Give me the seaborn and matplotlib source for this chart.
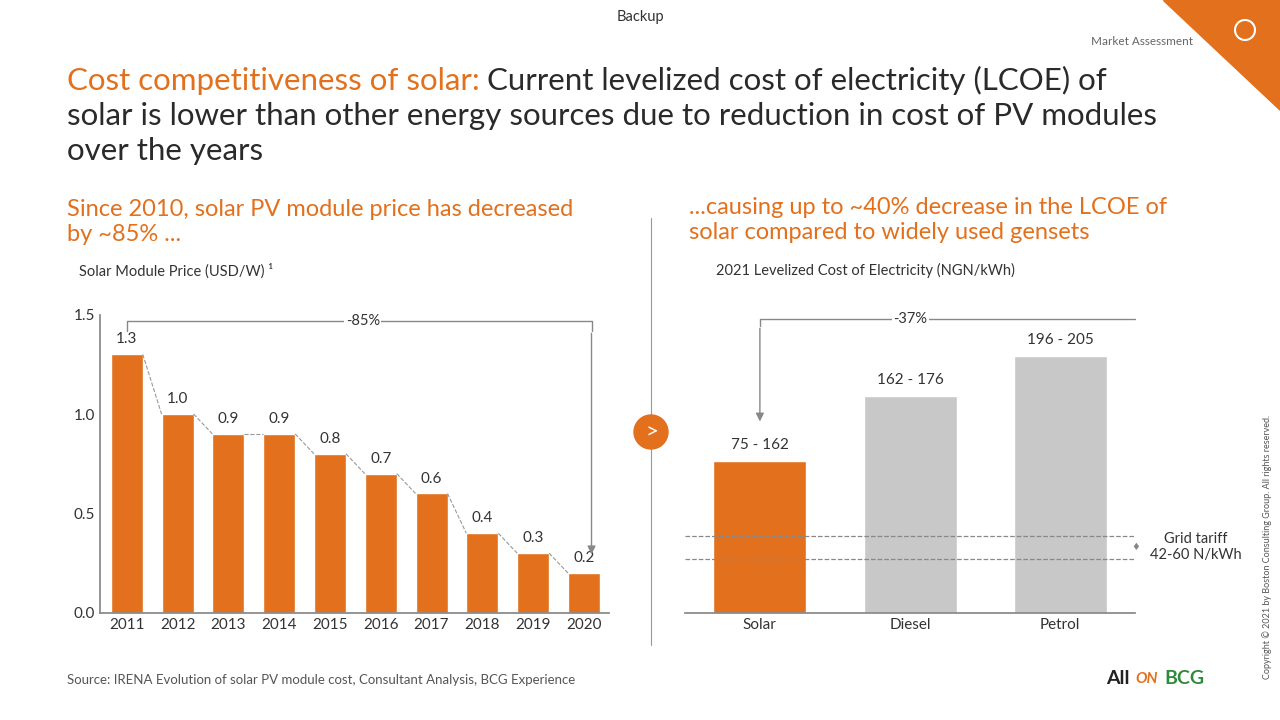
import numpy as np
import pandas as pd
import matplotlib
matplotlib.use("Agg")
import matplotlib.pyplot as plt
import seaborn as sns
from matplotlib.patches import Polygon, Ellipse

years = ["2011", "2012", "2013", "2014", "2015", "2016", "2017", "2018", "2019", "2020"]
price = [1.3, 1.0, 0.9, 0.9, 0.8, 0.7, 0.6, 0.4, 0.3, 0.2]
sources = ["Solar", "Diesel", "Petrol"]
lcoe_mid = [118.5, 169, 200.5]
lcoe_lbl = ["75 - 162", "162 - 176", "196 - 205"]
tariff = [42, 60]

ORANGE = "#E2701C"
GREY = "#C8C8C8"
TXT = "#333333"

sns.set_theme(style="white")
plt.rcParams['font.family'] = ['Lato', 'DejaVu Sans']

fig = plt.figure(figsize=(12.8, 7.2), dpi=100)

# header
fig.text(0.5, 0.977, "Backup", ha="center", va="center", fontsize=10.5, color=TXT)
fig.text(0.932, 0.943, "Market Assessment", ha="right", va="center", fontsize=8.5, color="#666666")
fig.patches.append(Polygon([[1163/1280, 1], [1, 1], [1, 1 - 110/720]], closed=True,
                           transform=fig.transFigure, color=ORANGE, zorder=0))
fig.patches.append(Ellipse((1245/1280, 1 - 30/720), 20/1280, 20/720, transform=fig.transFigure,
                           fill=False, ec="white", lw=1.5))

TS = 22.5
t1 = fig.text(0.052, 0.888, "Cost competitiveness of solar: ", fontsize=TS, color=ORANGE, va="center")
fig.canvas.draw()
bb = t1.get_window_extent()
fig.text(bb.x1 / 1280, 0.888, "Current levelized cost of electricity (LCOE) of",
         fontsize=TS, color="#2a2a2a", va="center")
fig.text(0.052, 0.839, "solar is lower than other energy sources due to reduction in cost of PV modules",
         fontsize=TS, color="#2a2a2a", va="center")
fig.text(0.052, 0.790, "over the years", fontsize=TS, color="#2a2a2a", va="center")

fig.text(0.052, 0.692, "Since 2010, solar PV module price has decreased\nby ~85% ...",
         fontsize=17, color=ORANGE, va="center", linespacing=1.25)
fig.text(0.538, 0.694, "...causing up to ~40% decrease in the LCOE of\nsolar compared to widely used gensets",
         fontsize=17, color=ORANGE, va="center", linespacing=1.25)
fig.text(0.062, 0.624, "Solar Module Price (USD/W) ¹", fontsize=10.5, color=TXT, va="center")
fig.text(0.559, 0.624, "2021 Levelized Cost of Electricity (NGN/kWh)", fontsize=10.5, color=TXT, va="center")

# left chart
ax1 = fig.add_axes([0.078, 0.149, 0.398, 0.414])
df1 = pd.DataFrame({"year": years, "price": price})
sns.barplot(data=df1, x="year", y="price", color=ORANGE, width=0.63, saturation=1, ax=ax1)
ax1.set_xlim(-0.53, 9.5)
ax1.set_ylim(0, 1.5)
ax1.set_yticks([0, 0.5, 1.0, 1.5])
ax1.set_yticklabels(["0.0", "0.5", "1.0", "1.5"])
ax1.set_xlabel("")
ax1.set_ylabel("")
ax1.tick_params(labelsize=11, colors=TXT, length=0)
for s in ["top", "right"]:
    ax1.spines[s].set_visible(False)
for s in ["left", "bottom"]:
    ax1.spines[s].set_color("#888888")
for i, v in enumerate(price):
    ax1.text(i, v + 0.04, f"{v:.1f}", ha="center", va="bottom", fontsize=11, color=TXT)
    if i < len(price) - 1:
        ax1.plot([i + 0.315, i + 1 - 0.315], [v, price[i + 1]], ls="--", lw=0.8, color="#999999")
ax1.plot([0, 0, 9.15, 9.15], [1.42, 1.47, 1.47, 1.42], color="#888888", lw=1, clip_on=False)
ax1.annotate("", xy=(9.15, 0.28), xytext=(9.15, 1.42),
             arrowprops=dict(arrowstyle="-|>", color="#888888", lw=1))
ax1.text(4.65, 1.47, "-85%", ha="center", va="center", fontsize=10.5, color=TXT,
         bbox=dict(fc="white", ec="none", pad=1))

# right chart
ax2 = fig.add_axes([0.535, 0.149, 0.352, 0.414])
df2 = pd.DataFrame({"source": sources, "lcoe": lcoe_mid})
sns.barplot(data=df2, x="source", y="lcoe", hue="source", palette=[ORANGE, GREY, GREY],
            width=0.62, saturation=1, legend=False, ax=ax2)
ax2.set_xlim(-0.5, 2.5)
ax2.set_ylim(0, 232.5)
ax2.set_yticks([])
ax2.set_xlabel("")
ax2.set_ylabel("")
ax2.tick_params(labelsize=11, colors=TXT, length=0)
for s in ["top", "right", "left"]:
    ax2.spines[s].set_visible(False)
ax2.spines["bottom"].set_color("#888888")
for i, (v, l) in enumerate(zip(lcoe_mid, lcoe_lbl)):
    ax2.text(i, v + 7, l, ha="center", va="bottom", fontsize=11, color=TXT)
for t in tariff:
    ax2.axhline(t, color="#888888", ls="--", lw=0.9)
ax2.text(2.5, 51, "♦", ha="center", va="center", fontsize=7, color="#888888", clip_on=False)
ax2.text(2.9, 51, "Grid tariff\n42-60 N/kWh", ha="center", va="center", fontsize=10.5, color=TXT,
         clip_on=False)
ax2.plot([0, 0, 2.5], [224, 229, 229], color="#888888", lw=1, clip_on=False)
ax2.annotate("", xy=(0, 147), xytext=(0, 224),
             arrowprops=dict(arrowstyle="-|>", color="#888888", lw=1))
ax2.text(1.0, 229, "-37%", ha="center", va="center", fontsize=10.5, color=TXT,
         bbox=dict(fc="white", ec="none", pad=1))

# separator
fig.add_artist(plt.Line2D([651/1280, 651/1280], [1 - 645/720, 1 - 218/720], color="#999999", lw=0.8))
fig.patches.append(Ellipse((651/1280, 1 - 432/720), 34/1280, 34/720, transform=fig.transFigure,
                           color=ORANGE, zorder=5))
fig.text(651/1280 + 0.001, 1 - 432/720, ">", ha="center", va="center", color="white",
         fontsize=16, zorder=6)

# footer
fig.text(0.052, 0.055, "Source: IRENA Evolution of solar PV module cost, Consultant Analysis, BCG Experience",
         fontsize=9.5, color="#555555", va="center")
fig.text(0.864, 0.057, "All", fontsize=14, fontweight="bold", color="#222222", va="center")
fig.text(0.887, 0.057, "ON", fontsize=11, fontweight="bold", color=ORANGE, va="center", style="italic")
fig.text(0.91, 0.057, "BCG", fontsize=14, fontweight="bold", color="#2E8B3A", va="center")
fig.text(0.99, 0.24, "Copyright © 2021 by Boston Consulting Group. All rights reserved.",
         rotation=90, fontsize=6.5, color="#555555", ha="center", va="center")

fig.savefig("out.png", dpi=100)
